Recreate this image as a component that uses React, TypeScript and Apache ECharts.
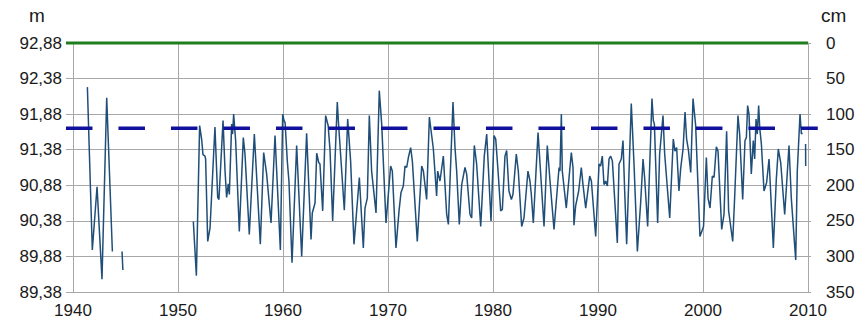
import React, { useEffect, useRef } from "react";
import * as echarts from "echarts";

// Reference levels (m)
const datumLevel = 92.88; // 0 cm on the gauge
const warningLevel = 91.68; // dashed blue level

// Axis ranges
const yearMin = 1940;
const yearMax = 2010;
const yearStep = 10;
const cmMin = 0;
const cmMax = 350;
const cmStep = 50;

// Water level readings (year, m); null marks a gap in the record
const years = [
  1941.37, 1941.84, 1942.29, 1942.76, 1943.21, 1943.75, 1944.2, 1944.67, 1944.75, 1948.0,
  1951.46, 1951.75, 1952.06, 1952.25, 1952.38, 1952.57, 1952.63, 1952.83, 1953.05, 1953.52,
  1953.78, 1953.9, 1954.29, 1954.48, 1954.63, 1954.79, 1954.89, 1955.11, 1955.2, 1955.3,
  1955.49, 1955.84, 1956.22, 1956.38, 1956.79, 1957.27, 1957.84, 1958.16, 1958.44, 1958.86,
  1959.24, 1959.75, 1959.97, 1960.1, 1960.2, 1960.41, 1960.57, 1960.86, 1961.3, 1961.78,
  1962.25, 1962.67, 1962.79, 1963.05, 1963.21, 1963.4, 1963.52, 1963.78, 1964.06, 1964.3,
  1964.48, 1964.73, 1965.17, 1965.27, 1965.84, 1966.16, 1966.44, 1966.76, 1967.27, 1967.65,
  1967.81, 1968.03, 1968.22, 1968.44, 1968.86, 1969.17, 1969.4, 1969.81, 1970.25, 1970.41,
  1970.76, 1971.05, 1971.24, 1971.46, 1971.62, 1971.78, 1971.94, 1972.16, 1972.32, 1972.79,
  1973.21, 1973.37, 1973.68, 1973.94, 1974.32, 1974.63, 1974.73, 1974.95, 1975.27, 1975.59,
  1975.75, 1976.19, 1976.38, 1976.54, 1976.79, 1977.02, 1977.33, 1977.49, 1977.81, 1977.97,
  1978.22, 1978.44, 1978.83, 1979.17, 1979.4, 1979.81, 1980.1, 1980.26, 1980.48, 1980.73,
  1980.89, 1981.14, 1981.3, 1981.52, 1981.75, 1981.9, 1982.22, 1982.41, 1982.73, 1982.95,
  1983.33, 1983.52, 1983.65, 1983.84, 1984.29, 1984.86, 1985.17, 1985.43, 1985.81, 1986.29,
  1986.38, 1986.51, 1986.6, 1986.98, 1987.46, 1987.62, 1987.71, 1987.87, 1988.16, 1988.41,
  1988.57, 1988.83, 1989.21, 1989.37, 1989.78, 1990.1, 1990.25, 1990.41, 1990.57, 1990.73,
  1990.89, 1991.05, 1991.21, 1991.37, 1991.84, 1992.0, 1992.22, 1992.38, 1992.54, 1992.73,
  1993.17, 1993.43, 1993.75, 1994.06, 1994.29, 1994.44, 1994.73, 1995.14, 1995.27, 1995.37,
  1995.68, 1995.87, 1996.19, 1996.35, 1996.83, 1997.17, 1997.33, 1997.49, 1997.71, 1997.87,
  1998.1, 1998.29, 1998.44, 1998.6, 1998.83, 1999.05, 1999.3, 1999.71, 2000.05, 2000.32,
  2000.48, 2000.67, 2000.89, 2001.05, 2001.27, 2001.43, 2001.78, 2002.0, 2002.25, 2002.44,
  2002.83, 2003.02, 2003.33, 2003.49, 2003.78, 2004.0, 2004.13, 2004.25, 2004.38, 2004.6,
  2004.79, 2004.92, 2005.05, 2005.17, 2005.3, 2005.4, 2005.56, 2005.81, 2006.06, 2006.29,
  2006.7, 2006.98, 2007.17, 2007.4, 2007.78, 2008.19, 2008.41, 2008.83, 2008.98, 2009.24,
  2009.37, 2009.46, 2009.6, 2009.77, 2009.78,
];

const levels: (number | null)[] = [
  92.26, 89.97, 90.86, 89.56, 92.11, 89.95, null, 89.95, 89.69, null,
  90.37, 89.61, 91.72, 91.53, 91.31, 91.29, 91.25, 90.09, 90.28, 91.7,
  90.71, 90.68, 91.79, 91.08, 90.71, 90.9, 90.75, 91.74, 91.6, 91.88,
  91.51, 90.23, 91.55, 91.32, 90.19, 91.6, 90.05, 91.34, 91.04, 90.35,
  91.58, 89.97, 91.88, 91.79, 91.76, 91.22, 90.93, 89.79, 91.44, 89.88,
  91.61, 90.12, 90.49, 90.63, 91.33, 91.2, 91.18, 90.52, 91.86, 91.72,
  91.37, 90.38, 92.05, 91.79, 90.53, 91.81, 91.22, 90.05, 90.99, 90.0,
  90.56, 90.7, 91.86, 91.08, 90.49, 92.21, 91.74, 90.35, 91.15, 91.08,
  90.0, 90.52, 90.78, 90.87, 91.15, 91.13, 91.27, 91.41, 91.22, 90.09,
  91.15, 91.08, 90.68, 91.84, 91.39, 90.73, 91.08, 90.94, 91.29, 90.47,
  90.33, 92.05, 91.41, 91.08, 90.33, 90.89, 91.13, 91.04, 90.47, 90.42,
  91.44, 91.18, 90.3, 91.29, 91.6, 90.38, 91.58, 91.53, 91.08, 90.52,
  90.54, 91.29, 91.37, 90.8, 90.68, 90.75, 91.32, 91.08, 90.3, 90.42,
  91.08, 90.94, 90.75, 90.35, 91.62, 90.3, 91.44, 90.94, 90.26, 91.13,
  91.08, 91.88, 91.08, 90.56, 91.34, 91.13, 90.32, 90.59, 90.8, 91.13,
  90.89, 90.56, 91.01, 90.94, 90.16, 91.18, 91.15, 91.29, 90.89, 90.94,
  90.87, 91.25, 91.29, 91.22, 90.07, 91.18, 91.25, 91.51, 90.8, 90.05,
  92.03, 91.18, 89.95, 90.63, 91.25, 90.99, 90.3, 92.1, 91.79, 91.74,
  90.35, 91.32, 91.86, 91.32, 90.42, 91.53, 91.36, 91.41, 90.8, 91.11,
  91.39, 91.91, 91.53, 91.39, 91.06, 92.1, 91.72, 90.16, 90.3, 91.27,
  90.7, 90.56, 91.01, 90.99, 91.42, 91.36, 90.26, 90.47, 91.64, 90.52,
  90.09, 90.73, 91.86, 91.6, 90.68, 91.51, 91.55, 92.0, 91.88, 91.04,
  91.51, 91.25, 91.81, 91.6, 92.0, 91.69, 91.46, 90.8, 90.92, 91.25,
  90.0, 90.96, 91.39, 91.2, 90.47, 91.44, 90.7, 89.83, 91.08, 91.88,
  91.6, 91.62, null, 91.46, 91.15,
];

// Extents of the two reference lines (years); they run a little past the plot
const refMinYear = 1939.33;
const refMaxYear = 2010.93;
const datumLineYears = [1939.33, 2010];
const warningLineYears = [1939.33, 2010.93];

const toCm = (m: number) => Math.round((datumLevel - m) * 1000) / 10;

const FONT = "'Liberation Sans', Arial, sans-serif";
const TEXT = "#1a1a1a";
const GRID = "#a8a8a8";

const PLOT_LEFT = 73;
const PLOT_RIGHT = 59;
const PLOT_TOP = 43;
const PLOT_BOTTOM = 42;
const WIDTH = 867;

export default function App() {
  const ref = useRef<HTMLDivElement>(null);

  useEffect(() => {
    if (!ref.current) return;
    const chart = echarts.init(ref.current, undefined, { renderer: "svg" });

    const levelData = years.map((y, i) => {
      const v = levels[i];
      return [y, v == null ? "-" : toCm(v)];
    });

    // second (invisible) grid with the same year scale, widened so reference lines can run past the plot
    const pxPerYear = (WIDTH - PLOT_LEFT - PLOT_RIGHT) / (yearMax - yearMin);
    const grid2Left = PLOT_LEFT - (yearMin - refMinYear) * pxPerYear;
    const grid2Right = WIDTH - (PLOT_LEFT + (refMaxYear - yearMin) * pxPerYear);

    chart.setOption({
      animation: false,
      backgroundColor: "#ffffff",
      grid: [
        { left: PLOT_LEFT, right: PLOT_RIGHT, top: PLOT_TOP, bottom: PLOT_BOTTOM, containLabel: false },
        { left: grid2Left, right: grid2Right, top: PLOT_TOP, bottom: PLOT_BOTTOM, containLabel: false },
      ],
      xAxis: [
        {
          type: "value",
          gridIndex: 0,
          min: yearMin,
          max: yearMax,
          interval: yearStep,
          axisLine: { show: true, lineStyle: { color: GRID, width: 1 } },
          axisTick: { show: true, length: 8, lineStyle: { color: GRID } },
          axisLabel: {
            fontSize: 17,
            color: TEXT,
            fontFamily: FONT,
            margin: 10,
            formatter: (v: number) => String(v),
          },
          splitLine: { show: true, lineStyle: { color: GRID, width: 1 } },
        },
        {
          type: "value",
          gridIndex: 1,
          min: refMinYear,
          max: refMaxYear,
          show: false,
        },
      ],
      yAxis: [
        {
          type: "value",
          gridIndex: 0,
          position: "left",
          inverse: true,
          min: cmMin,
          max: cmMax,
          interval: cmStep,
          axisLine: { show: true, lineStyle: { color: GRID, width: 1 } },
          axisTick: { show: true, length: 7, lineStyle: { color: GRID } },
          axisLabel: {
            fontSize: 17,
            color: TEXT,
            fontFamily: FONT,
            margin: 11,
            formatter: (v: number) => (datumLevel - v / 100).toFixed(2).replace(".", ","),
          },
          splitLine: { show: true, lineStyle: { color: GRID, width: 1 } },
        },
        {
          type: "value",
          gridIndex: 0,
          position: "right",
          inverse: true,
          min: cmMin,
          max: cmMax,
          interval: cmStep,
          axisLine: { show: true, lineStyle: { color: GRID, width: 1 } },
          axisTick: { show: true, length: 3, lineStyle: { color: GRID } },
          axisLabel: {
            fontSize: 17,
            color: TEXT,
            fontFamily: FONT,
            margin: 18,
            formatter: (v: number) => String(v),
          },
          splitLine: { show: false },
        },
        {
          type: "value",
          gridIndex: 1,
          inverse: true,
          min: cmMin,
          max: cmMax,
          show: false,
        },
      ],
      graphic: [
        {
          type: "text",
          left: 29,
          top: 6,
          style: { text: "m", fontSize: 19, fill: TEXT, fontFamily: FONT },
        },
        {
          type: "text",
          left: 821,
          top: 6,
          style: { text: "cm", fontSize: 19, fill: TEXT, fontFamily: FONT },
        },
      ],
      series: [
        {
          type: "line",
          xAxisIndex: 0,
          yAxisIndex: 0,
          data: levelData,
          symbol: "none",
          showSymbol: false,
          connectNulls: false,
          lineStyle: { color: "#1f4e78", width: 1.5 },
          z: 2,
        },
        {
          type: "line",
          xAxisIndex: 1,
          yAxisIndex: 2,
          data: datumLineYears.map((y) => [y, toCm(datumLevel)]),
          symbol: "none",
          clip: false,
          lineStyle: { color: "#1e7d1e", width: 3 },
          z: 3,
        },
        {
          type: "line",
          xAxisIndex: 1,
          yAxisIndex: 2,
          data: warningLineYears.map((y) => [y, toCm(warningLevel)]),
          symbol: "none",
          clip: false,
          lineStyle: { color: "#10109e", width: 3.5, type: [26.5, 26] },
          z: 4,
        },
      ],
    });

    return () => chart.dispose();
  }, []);

  return (
    <div
      ref={ref}
      style={{ position: "fixed", left: 0, top: 0, width: WIDTH, height: 334, background: "#fff" }}
    />
  );
}
